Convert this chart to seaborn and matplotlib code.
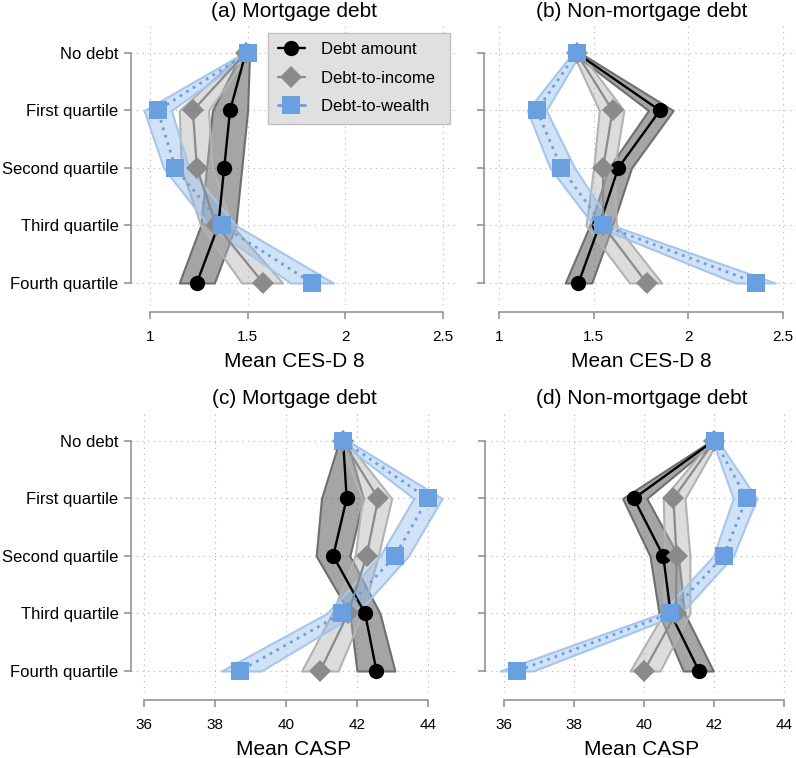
import matplotlib
matplotlib.use("Agg")
import matplotlib.pyplot as plt
from matplotlib.lines import Line2D
import pandas as pd
import seaborn as sns

categories = ["No debt", "First quartile", "Second quartile", "Third quartile", "Fourth quartile"]
series_names = ["Debt amount", "Debt-to-income", "Debt-to-wealth"]

# (a) CES-D 8, mortgage debt
a_amount = [1.49, 1.41, 1.38, 1.35, 1.24]
a_amount_lo = [1.47, 1.32, 1.29, 1.26, 1.15]
a_amount_hi = [1.51, 1.50, 1.47, 1.44, 1.33]
a_income = [1.49, 1.22, 1.24, 1.34, 1.58]
a_income_lo = [1.47, 1.15, 1.16, 1.26, 1.47]
a_income_hi = [1.51, 1.30, 1.32, 1.42, 1.68]
a_wealth = [1.50, 1.04, 1.13, 1.37, 1.83]
a_wealth_lo = [1.48, 0.97, 1.07, 1.30, 1.72]
a_wealth_hi = [1.52, 1.11, 1.20, 1.44, 1.94]

# (b) CES-D 8, non-mortgage debt
b_amount = [1.41, 1.85, 1.63, 1.53, 1.42]
b_amount_lo = [1.39, 1.79, 1.58, 1.48, 1.35]
b_amount_hi = [1.43, 1.92, 1.70, 1.60, 1.49]
b_income = [1.41, 1.60, 1.55, 1.55, 1.78]
b_income_lo = [1.39, 1.53, 1.50, 1.46, 1.69]
b_income_hi = [1.43, 1.66, 1.61, 1.62, 1.86]
b_wealth = [1.41, 1.20, 1.33, 1.55, 2.36]
b_wealth_lo = [1.39, 1.15, 1.27, 1.50, 2.25]
b_wealth_hi = [1.43, 1.25, 1.40, 1.60, 2.46]

# (c) CASP, mortgage debt
c_amount = [41.61, 41.71, 41.33, 42.23, 42.55]
c_amount_lo = [41.50, 41.00, 40.85, 41.80, 42.00]
c_amount_hi = [41.72, 42.18, 41.80, 42.65, 43.07]
c_income = [41.60, 42.60, 42.27, 41.75, 40.96]
c_income_lo = [41.50, 42.15, 41.95, 41.30, 40.44]
c_income_hi = [41.70, 42.98, 42.60, 42.15, 41.47]
c_wealth = [41.62, 44.00, 43.07, 41.57, 38.70]
c_wealth_lo = [41.50, 43.60, 42.65, 41.15, 38.18]
c_wealth_hi = [41.75, 44.40, 43.45, 42.00, 39.30]

# (d) CASP, non-mortgage debt
d_amount = [41.97, 39.70, 40.54, 40.75, 41.56]
d_amount_lo = [41.90, 39.38, 40.16, 40.42, 41.11]
d_amount_hi = [42.05, 40.07, 40.97, 41.15, 41.97]
d_income = [42.00, 40.83, 40.92, 40.90, 39.99]
d_income_lo = [41.90, 40.54, 40.58, 40.55, 39.59]
d_income_hi = [42.10, 41.16, 41.30, 41.30, 40.45]
d_wealth = [42.02, 42.92, 42.26, 40.73, 36.37]
d_wealth_lo = [41.95, 42.54, 41.97, 40.48, 35.88]
d_wealth_hi = [42.10, 43.21, 42.54, 41.05, 36.83]

cesd_ticks = [1, 1.5, 2, 2.5]
cesd_labels = ["1", "1.5", "2", "2.5"]
casp_ticks = [36, 38, 40, 42, 44]
casp_labels = ["36", "38", "40", "42", "44"]

W, H = 796, 758
sns.set_style("white")
plt.rcParams["font.family"] = ["Liberation Sans", "DejaVu Sans"]
plt.rcParams["text.color"] = "black"
plt.rcParams["axes.labelcolor"] = "black"

# line colour, band face, band edge, marker, marker size, line style
styles = {
    "Debt amount": dict(color="black", face=(0.30, 0.30, 0.30, 0.50), edge="#6e6e6e",
                        marker="o", ms=11, ls="-", lw=1.7),
    "Debt-to-income": dict(color="#8a8a8a", face=(0.70, 0.70, 0.70, 0.45), edge="#b2b2b2",
                           marker="D", ms=11.5, ls="-", lw=1.6),
    "Debt-to-wealth": dict(color="#6a9fe0", face=(0.55, 0.72, 0.92, 0.40), edge="#a4c6ee",
                           marker="s", ms=12.5, ls=(0, (1, 1.8)), lw=2.0),
}

panels = [
    dict(title="(a) Mortgage debt", xlabel="Mean CES-D 8", ticks=cesd_ticks, labels=cesd_labels,
         px=(131, 457, 25, 305), xlim=(0.903, 2.572), cx=294, base=(17, 367), ylabels=True,
         data=[(a_amount, a_amount_lo, a_amount_hi), (a_income, a_income_lo, a_income_hi),
               (a_wealth, a_wealth_lo, a_wealth_hi)]),
    dict(title="(b) Non-mortgage debt", xlabel="Mean CES-D 8", ticks=cesd_ticks, labels=cesd_labels,
         px=(484, 796, 25, 305), xlim=(0.921, 2.569), cx=641.5, base=(17, 367), ylabels=False,
         data=[(b_amount, b_amount_lo, b_amount_hi), (b_income, b_income_lo, b_income_hi),
               (b_wealth, b_wealth_lo, b_wealth_hi)]),
    dict(title="(c) Mortgage debt", xlabel="Mean CASP", ticks=casp_ticks, labels=casp_labels,
         px=(131, 457, 413, 693), xlim=(35.63, 44.82), cx=294, base=(404, 755), ylabels=True,
         data=[(c_amount, c_amount_lo, c_amount_hi), (c_income, c_income_lo, c_income_hi),
               (c_wealth, c_wealth_lo, c_wealth_hi)]),
    dict(title="(d) Non-mortgage debt", xlabel="Mean CASP", ticks=casp_ticks, labels=casp_labels,
         px=(485, 796, 413, 693), xlim=(35.45, 44.33), cx=641.5, base=(404, 755), ylabels=False,
         data=[(d_amount, d_amount_lo, d_amount_hi), (d_income, d_income_lo, d_income_hi),
               (d_wealth, d_wealth_lo, d_wealth_hi)]),
]

fig = plt.figure(figsize=(W / 100, H / 100), dpi=100)
pos = list(range(len(categories)))

for p in panels:
    l, r, t, b = p["px"]
    ax = fig.add_axes([l / W, 1 - b / H, (r - l) / W, (b - t) / H])

    # confidence bands first
    for name, (mean, lo, hi) in zip(series_names, p["data"]):
        st = styles[name]
        ax.fill_betweenx(pos, lo, hi, facecolor=st["face"], edgecolor=st["edge"],
                         linewidth=1.5, zorder=2)

    # mean lines with markers
    for name, (mean, lo, hi) in zip(series_names, p["data"]):
        st = styles[name]
        df = pd.DataFrame({"value": mean, "pos": pos})
        sns.lineplot(data=df, x="value", y="pos", orient="y", sort=False, ax=ax,
                     color=st["color"], linestyle=st["ls"], linewidth=st["lw"],
                     marker=st["marker"], markersize=st["ms"], markeredgewidth=0,
                     markerfacecolor=st["color"], markeredgecolor=st["color"], zorder=3)

    ax.set_xlim(*p["xlim"])
    ax.set_ylim(4.383, -0.487)
    ax.set_xticks(p["ticks"])
    ax.set_xticklabels(p["labels"])
    ax.set_yticks(pos)
    ax.set_yticklabels(categories if p["ylabels"] else [""] * len(categories))
    ax.set_xlabel("")
    ax.set_ylabel("")
    ax.grid(True, color="#b0b0b0", linestyle=(0, (1, 4)), linewidth=0.8, zorder=0)
    ax.set_axisbelow(True)

    for side in ["top", "right"]:
        ax.spines[side].set_visible(False)
    ax.spines["left"].set_bounds(0, 4)
    ax.spines["bottom"].set_bounds(p["ticks"][0], p["ticks"][-1])
    ax.spines["bottom"].set_position(("outward", 5))
    for side in ["left", "bottom"]:
        ax.spines[side].set_color("#8c8c8c")
        ax.spines[side].set_linewidth(1.1)
    ax.tick_params(axis="both", direction="out", length=5, width=1.1, color="#8c8c8c",
                   labelcolor="black", bottom=True, left=True)
    ax.tick_params(axis="y", labelsize=12, pad=4)
    ax.tick_params(axis="x", labelsize=11, pad=8)

    fig.text(p["cx"] / W, 1 - p["base"][0] / H, p["title"], ha="center", va="baseline", fontsize=15)
    fig.text(p["cx"] / W, 1 - p["base"][1] / H, p["xlabel"], ha="center", va="baseline", fontsize=15)

handles = []
for name in series_names:
    st = styles[name]
    handles.append(Line2D([0], [0], color=st["color"], linestyle="-", linewidth=st["lw"],
                          marker=st["marker"], markersize=st["ms"], markeredgewidth=0,
                          markerfacecolor=st["color"]))
legend_labels = [s + " " for s in series_names]
fig.legend(handles, legend_labels, loc="upper left", bbox_to_anchor=(268.3 / W, 1 - 32.5 / H),
           bbox_transform=fig.transFigure, borderaxespad=0, frameon=True, fancybox=False,
           facecolor="#e0e0e0", edgecolor="#c0c0c0", framealpha=1, fontsize=12,
           handlelength=1.6, handletextpad=1.0, labelspacing=0.8, borderpad=0.58)

fig.savefig("out.png", dpi=100)
